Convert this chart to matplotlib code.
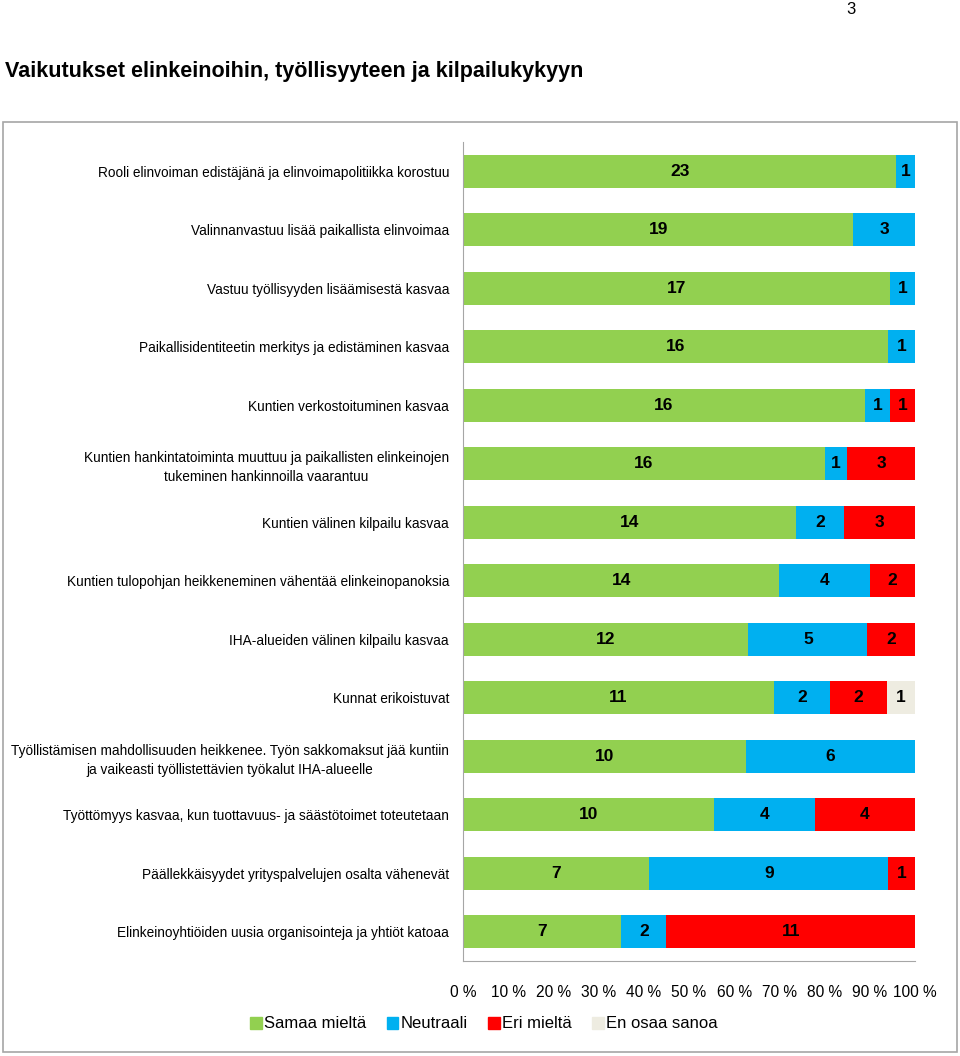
import matplotlib.pyplot as plt
import matplotlib.patches as mpatches
import numpy as np

plt.rcParams['font.family'] = ['Liberation Sans', 'DejaVu Sans']

# data
kategoriat = [
    'Rooli elinvoiman edistäjänä ja elinvoimapolitiikka korostuu',
    'Valinnanvastuu lisää paikallista elinvoimaa',
    'Vastuu työllisyyden lisäämisestä kasvaa',
    'Paikallisidentiteetin merkitys ja edistäminen kasvaa',
    'Kuntien verkostoituminen kasvaa',
    'Kuntien hankintatoiminta muuttuu ja paikallisten elinkeinojen\ntukeminen hankinnoilla vaarantuu',
    'Kuntien välinen kilpailu kasvaa',
    'Kuntien tulopohjan heikkeneminen vähentää elinkeinopanoksia',
    'IHA-alueiden välinen kilpailu kasvaa',
    'Kunnat erikoistuvat',
    'Työllistämisen mahdollisuuden heikkenee. Työn sakkomaksut jää kuntiin\nja vaikeasti työllistettävien työkalut IHA-alueelle',
    'Työttömyys kasvaa, kun tuottavuus- ja säästötoimet toteutetaan',
    'Päällekkäisyydet yrityspalvelujen osalta vähenevät',
    'Elinkeinoyhtiöiden uusia organisointeja ja yhtiöt katoaa',
]
samaa = [23, 19, 17, 16, 16, 16, 14, 14, 12, 11, 10, 10, 7, 7]
neutraali = [1, 3, 1, 1, 1, 1, 2, 4, 5, 2, 6, 4, 9, 2]
eri = [0, 0, 0, 0, 1, 3, 3, 2, 2, 2, 0, 4, 1, 11]
en_osaa = [0, 0, 0, 0, 0, 0, 0, 0, 0, 1, 0, 0, 0, 0]
sarjat = ['Samaa mieltä', 'Neutraali', 'Eri mieltä', 'En osaa sanoa']
varit = ['#92D050', '#00B0F0', '#FF0000', '#EEECE1']
xtikit = ['0 %', '10 %', '20 %', '30 %', '40 %', '50 %', '60 %', '70 %', '80 %', '90 %', '100 %']

arvot = np.array([samaa, neutraali, eri, en_osaa], dtype=float)
summat = arvot.sum(axis=0)
osuudet = arvot / summat * 100

fig = plt.figure(figsize=(9.6, 10.56), dpi=100)

# harmaa kehys
fig.patches.append(mpatches.Rectangle((3 / 960, 1 - 1052 / 1056), 954 / 960, 930 / 1056,
                                      transform=fig.transFigure, fill=False,
                                      edgecolor='#A6A6A6', linewidth=1.2))

fig.text(851 / 960, 1 - 10 / 1056, '3', fontsize=12, ha='center', va='center')
fig.text(5 / 960, 1 - 71 / 1056, 'Vaikutukset elinkeinoihin, työllisyyteen ja kilpailukykyyn',
         fontsize=15.5, fontweight='bold', ha='left', va='center')

ax = fig.add_axes([463 / 960, 95 / 1056, 452 / 960, 819 / 1056])
y = np.arange(len(kategoriat))
vasen = np.zeros(len(kategoriat))
for i in range(4):
    ax.barh(y, osuudet[i], left=vasen, height=0.56, color=varit[i], label=sarjat[i])
    for j in range(len(kategoriat)):
        if arvot[i, j] > 0:
            ax.text(vasen[j] + osuudet[i, j] / 2, y[j], f'{int(arvot[i, j])}',
                    ha='center', va='center', fontsize=12.5, fontweight='bold')
    vasen += osuudet[i]

ax.set_xlim(0, 100)
ax.set_ylim(len(kategoriat) - 0.5, -0.5)
ax.set_yticks(y)
ax.set_yticklabels(kategoriat, fontsize=9.8)
for t in ax.get_yticklabels():
    t.set_multialignment('center')
    t.set_linespacing(1.45)
ax.set_xticks(np.arange(0, 101, 10))
ax.set_xticklabels(xtikit, fontsize=11.2)
ax.tick_params(axis='both', length=0)
ax.tick_params(axis='y', pad=10)
ax.tick_params(axis='x', pad=17)
for s in ['top', 'right']:
    ax.spines[s].set_visible(False)
for s in ['left', 'bottom']:
    ax.spines[s].set_color('#A6A6A6')

kahvat = [mpatches.Patch(color=c) for c in varit]
fig.legend(kahvat, sarjat, loc='center', bbox_to_anchor=(484 / 960, 1 - 1024 / 1056),
           ncol=4, frameon=False, fontsize=12, handlelength=0.7, handleheight=0.7,
           handletextpad=0.15, columnspacing=1.2)

fig.savefig('out.png', dpi=100)
